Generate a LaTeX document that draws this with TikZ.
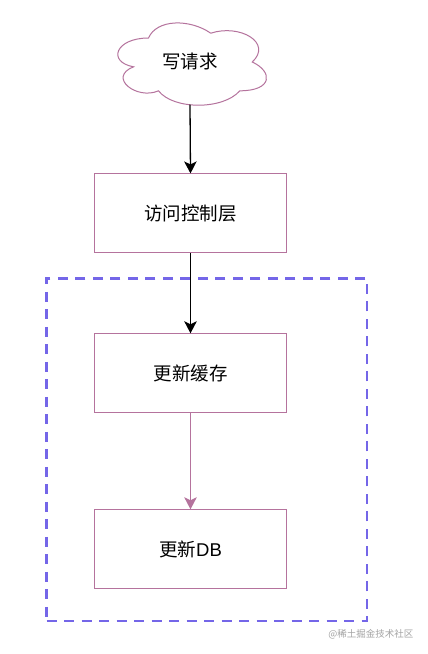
\documentclass[tikz,border=0pt]{standalone}
\usepackage{fontspec}
\setmainfont{Liberation Sans}
\newfontfamily\cjk{Noto Sans CJK SC}
\usetikzlibrary{arrows.meta}
\definecolor{mauve}{HTML}{B5739D}
\definecolor{dashblue}{HTML}{7466E8}
\tikzset{
  stepbox/.style={draw=mauve, line width=1pt, fill=white, minimum width=192.6pt, minimum height=79pt, inner sep=0pt, font=\fontsize{18.5}{22}\selectfont},
  cloudline/.style={draw=mauve, line width=1pt, fill=white},
  cloudtext/.style={inner sep=0pt, font=\fontsize{18.5}{22}\selectfont},
  blackarrow/.style={draw=black, line width=1.3pt, -{Stealth[length=12pt,width=12.5pt,inset=3pt]}},
  mauvearrow/.style={draw=mauve, line width=1.3pt, -{Stealth[length=12pt,width=12.5pt,inset=3pt]}},
  groupbox/.style={draw=dashblue, line width=2.7pt, dash pattern=on 10pt off 7.5pt}
}
\begin{document}
\begin{tikzpicture}[x=1pt,y=-1pt]
\useasboundingbox[fill=white] (0,0) rectangle (428,654);
\node[groupbox, minimum width=320.5pt, minimum height=342.7pt, inner sep=0pt] (group) at (206.8,449.5) {};
% draw.io style cloud, bounding box (107,14) size 166 x 96
\begin{scope}[shift={(107,14)}, x=166pt, y=-96pt]
\draw[cloudline] (0.25,0.25)
  .. controls (0.05,0.25) and (0,0.5) .. (0.16,0.55)
  .. controls (0,0.66) and (0.18,0.9) .. (0.31,0.8)
  .. controls (0.4,1) and (0.7,1) .. (0.8,0.8)
  .. controls (1,0.8) and (1,0.6) .. (0.875,0.5)
  .. controls (1,0.3) and (0.8,0.1) .. (0.625,0.2)
  .. controls (0.5,0.05) and (0.3,0.05) .. (0.25,0.25) -- cycle;
\coordinate (reqbottom) at (0.5,0.945);
\end{scope}
\node[cloudtext] (req) at (190,61.5) {\cjk 写请求};
\node[stepbox] (acl) at (190.5,213.4) {\cjk 访问控制层};
\node[stepbox] (cache) at (190.5,373.3) {\cjk 更新缓存};
\node[stepbox] (db) at (190.5,549.3) {{\cjk 更新}DB};
\draw[blackarrow] (reqbottom) -- (acl.north);
\draw[blackarrow] (acl.south) -- (cache.north);
\draw[mauvearrow] (cache.south) -- (db.north);
\node[font=\cjk\fontsize{9.5}{10}\selectfont, text=black!36, anchor=east, inner sep=0pt] (wm) at (413.5,634.5) {@稀土掘金技术社区};
\end{tikzpicture}
\end{document}
